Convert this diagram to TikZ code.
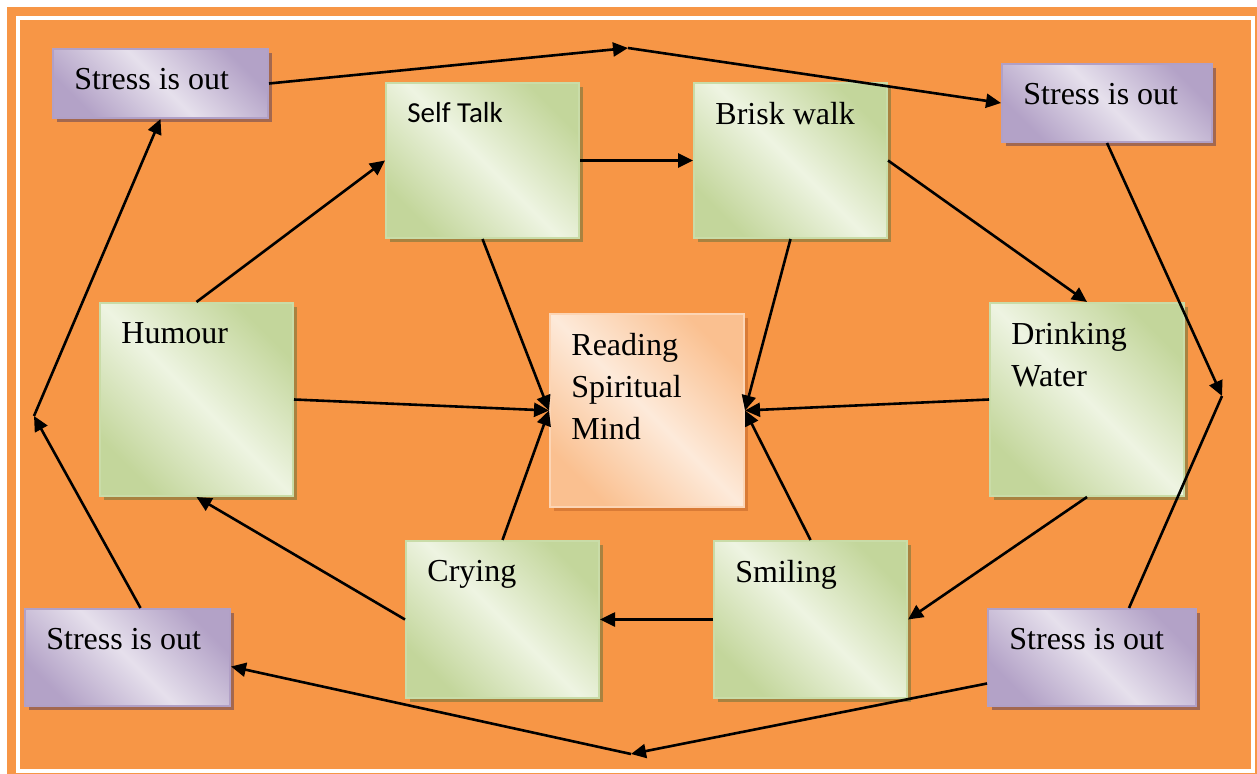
\documentclass[tikz,border=0pt]{standalone}
\usepackage{fontspec}
\setmainfont{Liberation Serif}
\newfontfamily\calibrifont{Carlito}
\usetikzlibrary{%
	arrows.meta,%
	calc,%
	shadows%
}

\definecolor{bgorange}{HTML}{F79646}
\definecolor{greendark}{HTML}{C3D69B}
\definecolor{greenlight}{HTML}{EEF4E2}
\definecolor{greenedge}{HTML}{C9DCA8}
\definecolor{greenshadow}{HTML}{A98240}
\definecolor{purpledark}{HTML}{B3A2C7}
\definecolor{purplelight}{HTML}{E6E0EC}
\definecolor{purpleedge}{HTML}{B1A0C6}
\definecolor{purpleshadow}{HTML}{A3684F}
\definecolor{peachdark}{HTML}{FAC090}
\definecolor{peachlight}{HTML}{FDEADA}
\definecolor{peachedge}{HTML}{FCD5B5}
\definecolor{peachshadow}{HTML}{D97B36}

\tikzset{
	link/.style={line width=1.3pt, -{Triangle[length=7.5pt,width=7pt]}},
	plainlink/.style={line width=1.3pt},
	box/.style={anchor=north west, inner sep=0pt, line width=1pt},
	greenbox/.style={box, draw=greenedge, top color=greendark, bottom color=greendark, middle color=greenlight, shading angle=-45,
		drop shadow={shadow xshift=2pt, shadow yshift=-2pt, fill=greenshadow, opacity=1}},
	stressbox/.style={box, draw=purpleedge, top color=purpledark, bottom color=purpledark, middle color=purplelight, shading angle=-45,
		drop shadow={shadow xshift=2pt, shadow yshift=-2pt, fill=purpleshadow, opacity=1}},
	mindbox/.style={box, draw=peachedge, top color=peachdark, bottom color=peachdark, middle color=peachlight, shading angle=-45,
		drop shadow={shadow xshift=2pt, shadow yshift=-2pt, fill=peachshadow, opacity=1}},
	boxtext/.style={anchor=north west, inner sep=0pt, align=left, xshift=11pt, yshift=-10pt, font=\fontsize{16}{21}\selectfont},
}

\begin{document}
\begin{tikzpicture}[x=0.5pt, y=-0.5pt]
	\useasboundingbox (0,0) rectangle (1257,774);
	% Background
	\fill[white] (0,0) rectangle (1257,774);
	\fill[bgorange] (7,7) rectangle (1257,774);
	\draw[white, line width=2pt] (17.5,18) rectangle (1252.5,770.5);
	% Stress boxes
	\node[stressbox, minimum width=107.5pt, minimum height=34.5pt, label={[boxtext]north west:Stress is out}] (stressTL) at (52,48) {};
	\node[stressbox, minimum width=105pt, minimum height=39pt, label={[boxtext]north west:Stress is out}] (stressTR) at (1001,63) {};
	\node[stressbox, minimum width=102.5pt, minimum height=48.5pt, label={[boxtext]north west:Stress is out}] (stressBL) at (24,608) {};
	\node[stressbox, minimum width=104pt, minimum height=48.5pt, label={[boxtext]north west:Stress is out}] (stressBR) at (987,608) {};
	% Activity boxes
	\node[greenbox, minimum width=96.5pt, minimum height=77.5pt, label={[boxtext, font=\calibrifont\fontsize{14.5}{18}\selectfont]north west:Self Talk}] (selftalk) at (385,82) {};
	\node[greenbox, minimum width=96.5pt, minimum height=77.5pt, label={[boxtext]north west:Brisk walk}] (briskwalk) at (693,82) {};
	\node[greenbox, minimum width=96.5pt, minimum height=96.5pt, label={[boxtext]north west:Humour}] (humour) at (99,302) {};
	\node[greenbox, minimum width=97pt, minimum height=96.5pt, label={[boxtext]north west:Drinking\\Water}] (drinking) at (989,302) {};
	\node[greenbox, minimum width=96.5pt, minimum height=78.5pt, label={[boxtext]north west:Crying}] (crying) at (405,540) {};
	\node[greenbox, minimum width=96.5pt, minimum height=78.5pt, label={[boxtext]north west:Smiling}] (smiling) at (713,540) {};
	% Centre box
	\node[mindbox, minimum width=97pt, minimum height=96.5pt, label={[boxtext]north west:Reading\\Spiritual\\Mind}] (reading) at (549,313) {};
	% Turning points of the outer ring
	\coordinate (topturn) at (628,48);
	\coordinate (rightturn) at (1222,396);
	\coordinate (bottomturn) at (631,754);
	\coordinate (leftturn) at (34,416);
	% Outer ring
	\draw[link] (stressTL.east) -- (topturn);
	\draw[link] (topturn) -- (stressTR.west);
	\draw[link] (stressTR.south) -- (rightturn);
	\draw[plainlink] (rightturn) -- ($(stressBR.north)+(37,0)$);
	\draw[link] ($(stressBR.west)+(0,26)$) -- (bottomturn);
	\draw[link] (bottomturn) -- ($(stressBL.east)+(0,9)$);
	\draw[link] ($(stressBL.north)+(13,0)$) -- (leftturn);
	\draw[link] (leftturn) -- (stressTL.south);
	% Inner ring
	\draw[link] (humour.north) -- (selftalk.west);
	\draw[link] (selftalk.east) -- (briskwalk.west);
	\draw[link] (briskwalk.east) -- (drinking.north);
	\draw[link] (drinking.south) -- (smiling.east);
	\draw[link] (smiling.west) -- (crying.east);
	\draw[link] (crying.west) -- (humour.south);
	% Into the centre
	\draw[link] (selftalk.south) -- (reading.west);
	\draw[link] (humour.east) -- (reading.west);
	\draw[link] (crying.north) -- (reading.west);
	\draw[link] (briskwalk.south) -- (reading.east);
	\draw[link] (drinking.west) -- (reading.east);
	\draw[link] (smiling.north) -- (reading.east);
\end{tikzpicture}
\end{document}
